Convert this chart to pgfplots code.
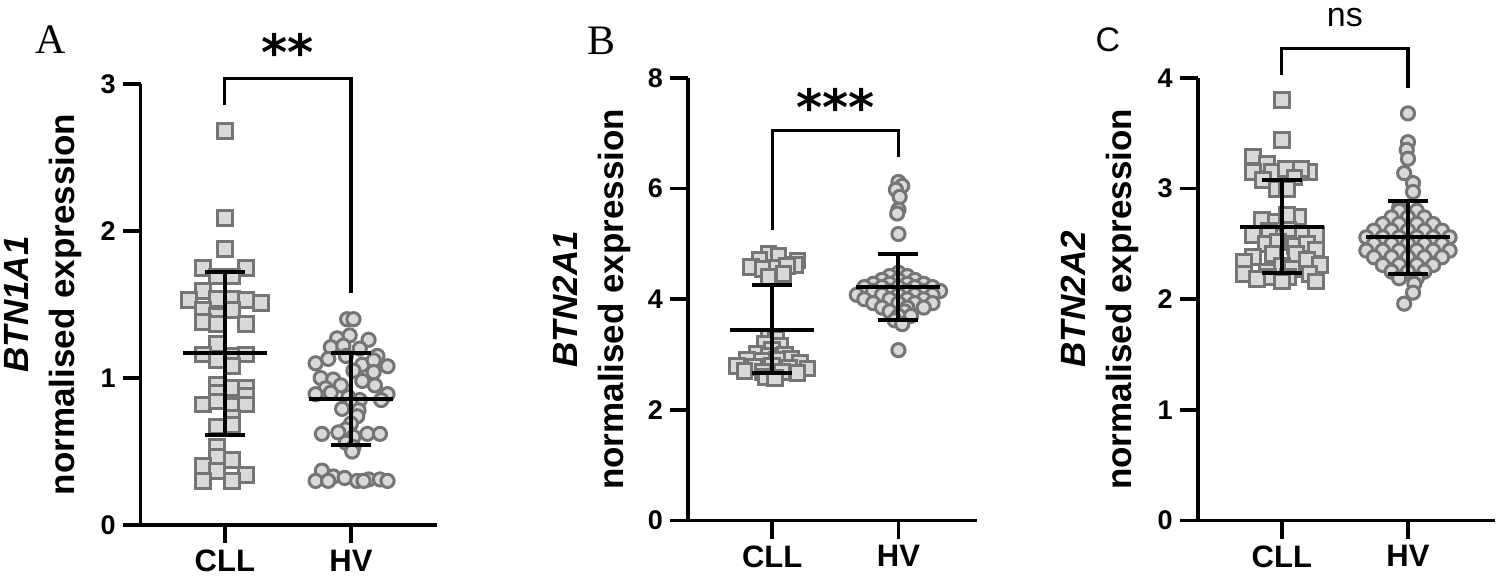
\documentclass[border=0pt]{standalone}
\usepackage{pgfplots}
\pgfplotsset{compat=1.18}
\usepackage{fontspec}
\setmainfont{Liberation Sans}
\newfontfamily\serifletter{Liberation Serif}
\newfontfamily\starfont{DejaVu Sans}

\definecolor{mkedge}{HTML}{757575}
\definecolor{mkfill}{HTML}{D9D9D9}

\tikzset{panel/.style={anchor=base west, inner sep=0pt}}

\pgfplotsset{
  dotplot/.style={
    scale only axis,
    anchor=south west,
    clip=false,
    clip marker paths=true,
    axis x line*=bottom,
    axis y line*=left,
    axis line style={line width=1.8pt},
    every tick/.style={line width=1.8pt, black},
    tick align=outside,
    major tick length=9pt,
    xtick={1,2},
    xticklabels={CLL,HV},
    xmin=0.333,
    x tick label style={font=\bfseries\fontsize{15.5}{18}\selectfont},
    y tick label style={font=\bfseries\fontsize{13.5}{15}\selectfont},
    /pgf/number format/assume math mode=true,
    ylabel style={at={(axis description cs:-0.198,0.5)}, anchor=south, inner sep=0pt,
      align=center, font=\bfseries\fontsize{17.5}{23}\selectfont},
  },
  cll/.style={only marks, mark=square*, mark size=3.7pt,
    mark options={draw=mkedge, fill=mkfill, line width=1.5pt}},
  hv/.style={only marks, mark=*, mark size=3.3pt,
    mark options={draw=mkedge, fill=mkfill, line width=1.5pt}},
  sdline/.style={black, line width=2pt, mark=none},
  sdcap/.style={only marks, mark=-, mark size=10pt,
    mark options={line width=2pt, black}},
  meanline/.style={only marks, mark=-, mark size=21pt,
    mark options={line width=2pt, black}},
  bracket/.style={black, line width=1.6pt, mark=none},
}

\begin{document}
\begin{tikzpicture}
\useasboundingbox (0,0) rectangle (752.5pt,293pt);

% ---------------- A: BTN1A1
\begin{axis}[dotplot,
  at={(70.35pt,30.5pt)}, width=148pt, height=220.5pt,
  xmax=2.68, ymin=0, ymax=3, ytick={0,1,2,3},
  ylabel={\textit{BTN1A1}\\normalised expression}]
\addplot[cll] coordinates {
 (1.00,2.68) (1.00,2.09) (1.00,1.88)
 (0.83,1.75) (1.17,1.75) (0.94,1.69) (1.06,1.69) (0.83,1.59)
 (0.715,1.53) (0.94,1.54) (1.06,1.54) (1.17,1.53) (1.285,1.51)
 (0.83,1.46) (1.06,1.46) (0.94,1.42)
 (0.83,1.38) (0.94,1.37) (1.17,1.37)
 (0.94,1.23) (0.83,1.16) (1.06,1.15) (1.17,1.16) (0.94,1.12) (1.06,1.08)
 (0.94,0.95) (1.06,0.93) (1.17,0.93) (0.94,0.90) (1.17,0.88)
 (0.83,0.82) (0.94,0.84) (1.06,0.81) (1.17,0.82)
 (1.06,0.73) (0.94,0.67) (1.06,0.68) (0.94,0.53)
 (0.94,0.46) (1.06,0.44) (0.83,0.40) (0.94,0.37) (1.17,0.34)
 (0.83,0.30) (1.06,0.30)
};
\addplot[hv] coordinates {
 (1.97,1.40) (2.02,1.40)
 (1.89,1.27) (1.99,1.29) (2.14,1.26)
 (1.84,1.21) (1.94,1.22) (2.07,1.20) (2.21,1.15)
 (1.72,1.10) (1.82,1.13) (1.96,1.15) (2.09,1.09) (2.18,1.12) (2.29,1.08)
 (1.76,1.00) (1.86,0.99) (2.09,0.98) (2.18,1.04) (2.02,1.05)
 (1.92,0.95) (2.19,0.95) (1.80,0.93)
 (1.72,0.89) (1.84,0.90) (2.07,0.85) (2.29,0.89) (1.98,0.87) (2.24,0.85)
 (2.00,0.82) (1.93,0.79) (2.06,0.78)
 (2.05,0.74) (2.00,0.69) (1.96,0.65)
 (1.77,0.62) (1.90,0.63) (2.13,0.62) (2.23,0.62) (2.02,0.60)
 (1.96,0.56) (2.02,0.53) (2.01,0.50)
 (1.77,0.37) (1.86,0.33) (1.95,0.32) (2.05,0.30) (2.14,0.31)
 (2.23,0.31) (2.29,0.30) (1.72,0.30) (1.82,0.30) (2.10,0.30)
};
% mean +- SD
\addplot[sdline] coordinates {(1,0.614) (1,1.724)};
\addplot[sdline] coordinates {(2,0.546) (2,1.173)};
\addplot[sdcap] coordinates {(1,0.614) (1,1.724) (2,0.546) (2,1.173)};
\addplot[meanline] coordinates {(1,1.173) (2,0.855)};
\addplot[bracket] coordinates {(1,2.86) (1,3.04) (2,3.04) (2,1.58)};
\node[font=\starfont\bfseries\fontsize{25}{25}\selectfont] at (axis cs:1.5,3.22) {**};
\node[panel, font=\serifletter\fontsize{21}{21}\selectfont]
  at (axis description cs:-0.357,1.070) {A};
\end{axis}

% ---------------- B: BTN2A1
\begin{axis}[dotplot,
  at={(344pt,32.75pt)}, width=144.35pt, height=221.25pt,
  xmax=2.62, ymin=0, ymax=8, ytick={0,2,4,6,8},
  ylabel={\textit{BTN2A1}\\normalised expression}]
\addplot[cll] coordinates {
 (0.97,4.82) (1.05,4.78) (0.90,4.72) (1.20,4.70) (1.18,4.62)
 (0.83,4.58) (0.93,4.55) (1.04,4.56) (1.12,4.60) (0.97,4.40) (1.09,4.45)
 (0.97,3.32) (1.03,3.28) (0.94,3.20) (1.06,3.15) (1.00,3.08)
 (0.88,3.02) (1.10,3.00) (0.97,2.98) (1.15,2.92) (0.80,2.90)
 (0.92,2.88) (1.04,2.90) (1.22,2.85) (0.72,2.80) (0.86,2.78)
 (1.00,2.80) (1.13,2.76) (1.28,2.75) (0.78,2.70) (0.93,2.68)
 (1.08,2.68) (1.20,2.66) (0.95,2.60) (1.02,2.58)
};
\addplot[hv] coordinates {
 (2.00,6.12) (2.03,6.05) (1.98,5.98) (2.01,5.85) (2.00,5.62) (1.99,5.55) (2.00,5.18)
 (2.00,4.48)
 (1.93,4.42) (2.07,4.42)
 (1.87,4.35) (2.00,4.35) (2.13,4.35)
 (1.80,4.28) (1.93,4.28) (2.07,4.28) (2.20,4.28)
 (1.73,4.22) (1.87,4.22) (2.00,4.22) (2.13,4.22) (2.27,4.22)
 (1.80,4.15) (1.93,4.15) (2.07,4.15) (2.20,4.15) (2.33,4.15)
 (1.67,4.08) (1.87,4.08) (2.00,4.08) (2.13,4.08) (2.27,4.08)
 (1.73,4.00) (1.93,4.00) (2.07,4.00) (2.20,4.00)
 (1.80,3.93) (2.00,3.93) (2.13,3.93) (2.27,3.93)
 (1.87,3.85) (2.07,3.85) (2.20,3.85)
 (1.93,3.78) (2.05,3.78)
 (2.00,3.70) (2.10,3.70)
 (1.97,3.62) (2.03,3.55)
 (2.00,3.08)
};
\addplot[sdline] coordinates {(1,2.67) (1,4.25)};
\addplot[sdline] coordinates {(2,3.62) (2,4.82)};
\addplot[sdcap] coordinates {(1,2.67) (1,4.25) (2,3.62) (2,4.82)};
\addplot[meanline] coordinates {(1,3.44) (2,4.23)};
\addplot[bracket] coordinates {(1,5.26) (1,7.05) (2,7.05) (2,6.58)};
\node[font=\starfont\bfseries\fontsize{25}{25}\selectfont] at (axis cs:1.5,7.47) {***};
\node[panel, font=\serifletter\fontsize{21}{21}\selectfont]
  at (axis description cs:-0.35,1.054) {B};
\end{axis}

% ---------------- C: BTN2A2
\begin{axis}[dotplot,
  at={(598.85pt,32.75pt)}, width=148.65pt, height=221.25pt,
  xmax=2.69, ymin=0, ymax=4, ytick={0,1,2,3,4},
  ylabel={\textit{BTN2A2}\\normalised expression}]
\addplot[cll] coordinates {
 (1.00,3.80) (1.00,3.44)
 (0.77,3.29) (0.88,3.22) (0.77,3.15) (0.92,3.15) (1.07,3.15) (1.22,3.15)
 (1.15,3.18) (1.03,3.18) (0.85,3.08) (1.10,3.10)
 (0.96,3.00) (1.04,3.00)
 (0.84,2.72) (1.13,2.74) (0.95,2.70) (1.04,2.76)
 (0.77,2.58) (1.15,2.58) (1.27,2.58) (0.90,2.62) (1.05,2.63)
 (0.87,2.50) (0.97,2.52) (1.10,2.48) (1.20,2.50) (1.27,2.45)
 (0.93,2.41) (1.11,2.41) (0.77,2.38) (1.20,2.36) (0.70,2.34) (1.00,2.30)
 (1.30,2.31) (0.88,2.25) (1.08,2.27)
 (0.70,2.23) (0.89,2.20) (1.22,2.23) (1.05,2.20)
 (1.00,2.16) (1.27,2.16) (0.80,2.18)
};
\addplot[hv] coordinates {
 (2.00,3.68) (2.00,3.42) (1.99,3.35) (2.00,3.27) (1.97,3.14) (2.04,3.05) (2.04,2.97) (1.93,2.83)
 (1.93,2.80) (2.07,2.80)
 (1.87,2.74) (2.00,2.74) (2.13,2.74)
 (1.80,2.68) (1.93,2.68) (2.07,2.68) (2.20,2.68)
 (1.73,2.62) (1.87,2.62) (2.00,2.62) (2.13,2.62) (2.27,2.62)
 (1.67,2.56) (1.80,2.56) (1.93,2.56) (2.07,2.56) (2.20,2.56) (2.33,2.56)
 (1.73,2.50) (1.87,2.50) (2.00,2.50) (2.13,2.50) (2.27,2.50)
 (1.67,2.44) (1.80,2.44) (1.93,2.44) (2.07,2.44) (2.20,2.44) (2.33,2.44)
 (1.73,2.38) (1.87,2.38) (2.00,2.38) (2.13,2.38) (2.27,2.38)
 (1.80,2.31) (1.93,2.31) (2.07,2.31) (2.20,2.31)
 (1.87,2.25) (2.00,2.25) (2.13,2.25)
 (1.93,2.19) (2.07,2.19)
 (2.05,2.14) (2.04,2.06) (1.97,1.96)
};
\addplot[sdline] coordinates {(1,2.233) (1,3.077)};
\addplot[sdline] coordinates {(2,2.226) (2,2.884)};
\addplot[sdcap] coordinates {(1,2.233) (1,3.077) (2,2.226) (2,2.884)};
\addplot[meanline] coordinates {(1,2.655) (2,2.564)};
\addplot[bracket] coordinates {(1,4.03) (1,4.27) (2,4.27) (2,3.91)};
\node[anchor=base, font=\fontsize{17}{17}\selectfont] at (axis cs:1.5,4.47) {ns};
\node[panel, font=\fontsize{17}{17}\selectfont]
  at (axis description cs:-0.345,1.059) {C};
\end{axis}
\end{tikzpicture}
\end{document}
